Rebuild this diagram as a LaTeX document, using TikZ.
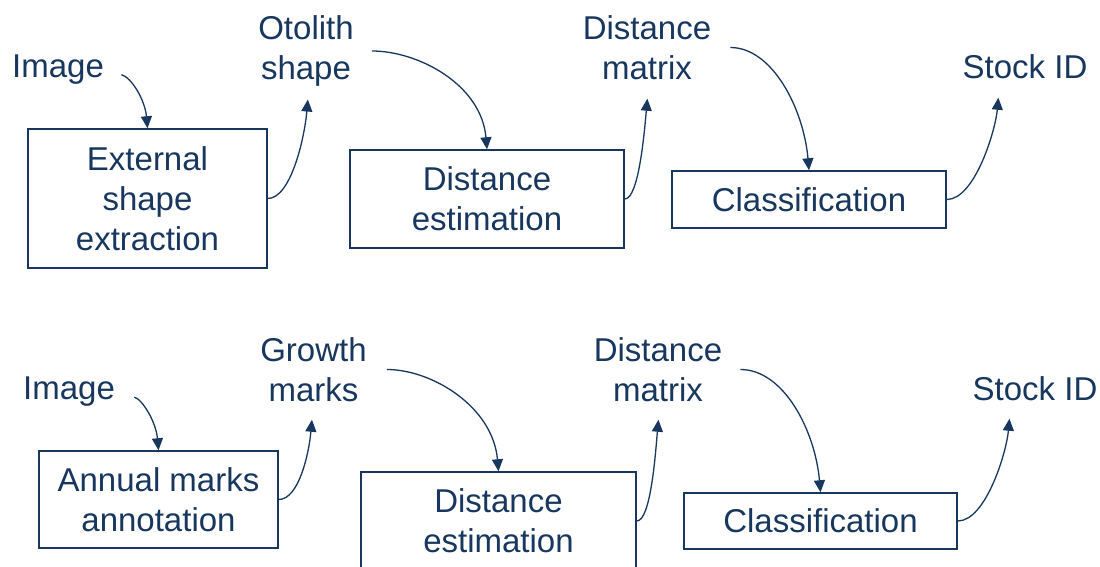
\documentclass[tikz,border=0pt]{standalone}
\usepackage{fontspec}
\setmainfont{Liberation Sans}
\usetikzlibrary{arrows.meta}
\definecolor{navy}{HTML}{17375E}

\begin{document}
\begin{tikzpicture}[x=1pt, y=-1pt,
		every node/.style={text=navy, font=\fontsize{33}{40}\selectfont},
		lbl/.style={inner sep=0pt, align=center},
		stepbox/.style={draw=navy, line width=1.5pt, inner sep=0pt, align=center},
		flow/.style={draw=navy, line width=1.3pt, -{Triangle[length=12pt, width=11pt]}},
		rise/.style={out=0, in=-95, out distance=#1, in distance=52pt},
		fall/.style={out=0, in=95}]
			\useasboundingbox (0,0) rectangle (1100,567);
			\clip (0,0) rectangle (1100,567);

			\node[lbl] (img1) at (58,70) {Image};
			\node[lbl] (shape1) at (306,51) {Otolith\\shape};
			\node[lbl] (mat1) at (647,47.5) {Distance\\matrix};
			\node[lbl] (stock1) at (1025,66.5) {Stock ID};
			\node[stepbox, minimum width=239pt, minimum height=139pt] (extr) at (147.5,198.5) {External\\shape\\extraction};
			\node[stepbox, minimum width=274pt, minimum height=98pt] (dist1) at (487,199) {Distance\\estimation};
			\node[stepbox, minimum width=274pt, minimum height=57pt] (class1) at (809,199.5) {Classification};

			\node[lbl] (img2) at (69,392) {Image};
			\node[lbl] (growth) at (313.5,369.5) {Growth\\marks};
			\node[lbl] (mat2) at (658,369.5) {Distance\\matrix};
			\node[lbl] (stock2) at (1035,388.5) {Stock ID};
			\node[stepbox, minimum width=239pt, minimum height=97pt] (annot) at (158.5,499.5) {Annual marks\\annotation};
			\node[stepbox, minimum width=275pt, minimum height=98pt] (dist2) at (498.5,521) {Distance\\estimation};
			\node[stepbox, minimum width=273pt, minimum height=56pt] (class2) at (820.5,521) {Classification};

			\path[every edge/.style={flow}] (img1.east) edge[out=-15, in=95, shorten <=18pt] (extr.north)
			(extr.east) edge[rise=23pt, shorten >=13pt] ([xshift=3pt]shape1.south)
			(shape1.east) edge[fall, shorten <=18pt] (dist1.north)
			(dist1.east) edge[rise=14pt, shorten >=19pt] ([xshift=2pt]mat1.south)
			(mat1.east) edge[fall, shorten <=19pt] (class1.north)
			(class1.east) edge[rise=28pt, shorten >=19pt] ([xshift=-25pt]stock1.south)

			(img2.east) edge[out=-15, in=95, shorten <=20pt] (annot.north)
			(annot.east) edge[rise=20pt, shorten >=18pt] (growth.south)
			(growth.east) edge[fall, shorten <=20pt] (dist2.north)
			(dist2.east) edge[rise=14pt, shorten >=18pt] ([xshift=2pt]mat2.south)
			(mat2.east) edge[fall, shorten <=18pt] (class2.north)
			(class2.east) edge[rise=28pt, shorten >=18pt] ([xshift=-24pt]stock2.south);

		\end{tikzpicture}
\end{document}
